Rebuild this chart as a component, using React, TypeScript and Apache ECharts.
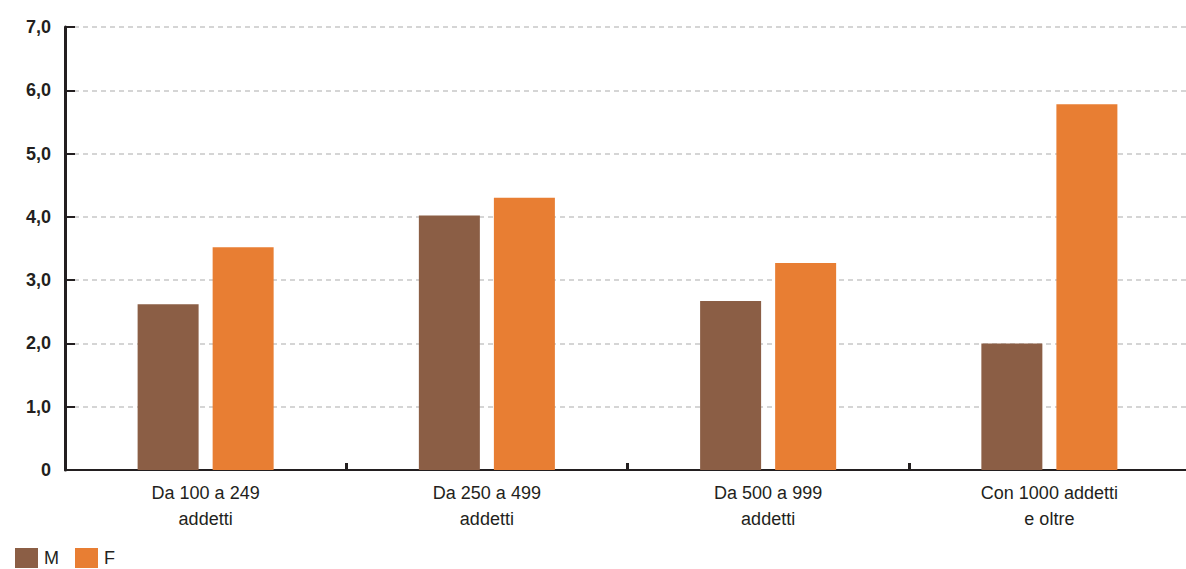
import React, { useEffect, useRef } from "react";
import * as echarts from "echarts";

const categories = ["Da 100 a 249\naddetti", "Da 250 a 499\naddetti", "Da 500 a 999\naddetti", "Con 1000 addetti\ne oltre"];
const valuesM = [2.62, 4.02, 2.67, 2.0];
const valuesF = [3.52, 4.3, 3.27, 5.78];
const seriesNames = ["M", "F"];
const colors = ["#8B5E45", "#E87E33"];

const FONT = "'Liberation Sans Narrow', 'Liberation Sans', Arial, sans-serif";

export default function App() {
  const ref = useRef<HTMLDivElement>(null);
  useEffect(() => {
    const chart = echarts.init(ref.current!, null, { renderer: "svg" });
    chart.setOption({
      animation: false,
      color: colors,
      textStyle: { fontFamily: FONT },
      grid: { left: 65, top: 27, right: 10, bottom: 99, containLabel: false },
      legend: {
        left: 15,
        top: 548,
        padding: 0,
        itemWidth: 23,
        itemHeight: 20,
        itemGap: 16,
        icon: "rect",
        textStyle: { fontSize: 18, color: "#231f20", fontFamily: FONT, padding: [0, 0, 0, 1] },
        data: seriesNames,
      },
      xAxis: {
        type: "category",
        data: categories,
        axisLine: { lineStyle: { color: "#231f20", width: 2 } },
        axisTick: { show: true, inside: true, length: 7, interval: 0, lineStyle: { color: "#231f20", width: 3 } },
        axisLabel: { fontSize: 18, color: "#231f20", lineHeight: 26, margin: 10, interval: 0, fontFamily: FONT },
      },
      yAxis: {
        type: "value",
        min: 0,
        max: 7,
        interval: 1,
        axisLine: { show: true, lineStyle: { color: "#231f20", width: 3 } },
        axisTick: { show: true, inside: true, length: 10, lineStyle: { color: "#231f20", width: 2 } },
        axisLabel: {
          fontSize: 18,
          color: "#231f20",
          margin: 14,
          fontWeight: "bold",
          fontFamily: FONT,
          formatter: (v: number) => (v === 0 ? "0" : v.toFixed(1).replace(".", ",")),
        },
        splitLine: { show: true, lineStyle: { color: "#c8c8c8", type: [5, 4], width: 1.5 } },
      },
      series: [
        { name: seriesNames[0], type: "bar", data: valuesM, barWidth: 61, barGap: "23%" },
        { name: seriesNames[1], type: "bar", data: valuesF, barWidth: 61, barGap: "23%" },
      ],
    });
    return () => chart.dispose();
  }, []);
  return <div ref={ref} style={{ position: "fixed", left: 0, top: 0, width: 1200, height: 569, background: "#fff" }} />;
}
